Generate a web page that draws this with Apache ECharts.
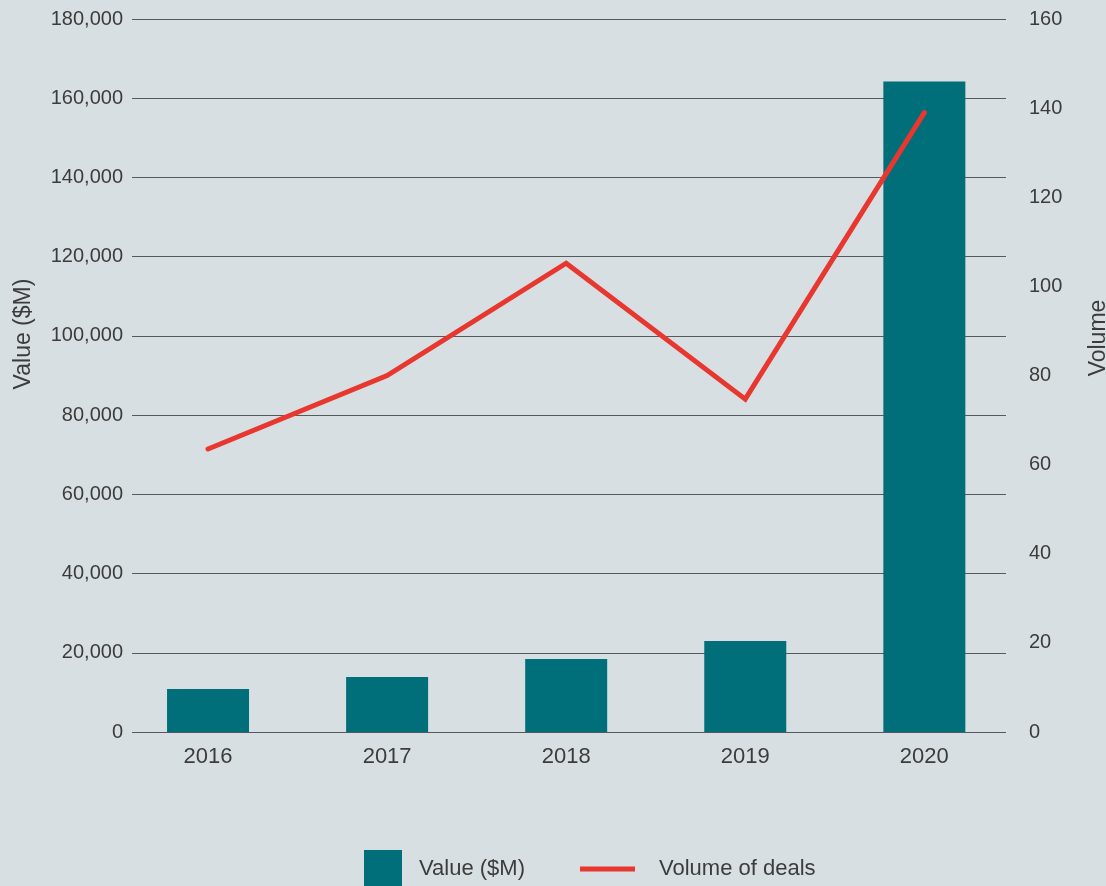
<!DOCTYPE html>
<html>
<head>
<meta charset="utf-8">
<script src="https://cdn.jsdelivr.net/npm/echarts@6/dist/echarts.min.js"></script>
<style>
html,body{margin:0;padding:0;background:#d7dfe2;}
#chart{width:1106px;height:886px;}
</style>
</head>
<body>
<div id="chart"></div>
<script>
var years = ['2016', '2017', '2018', '2019', '2020'];
var valueM = [10850, 13900, 18400, 22950, 164200];
var volume = [63.5, 80, 105.2, 74.7, 139];
var leftTicks = [0, 180000, 20000];
var rightTicks = [0, 160, 20];

var FONT = '"Liberation Sans", Arial, Helvetica, sans-serif';
var TXT = '#3c3c3c';

var barData = valueM.map(function (v, i) { return [i, v]; });
var lineData = volume.map(function (v, i) { return [i, v]; });
var idx = years.map(function (y, i) { return i; });

var chart = echarts.init(document.getElementById('chart'));
chart.setOption({
  backgroundColor: '#d7dfe2',
  animation: false,
  textStyle: { fontFamily: FONT, color: TXT },
  grid: { left: 132, right: 100, top: 19, bottom: 154, containLabel: false, outerBoundsMode: 'none' },
  xAxis: {
    type: 'value',
    min: -0.4246,
    max: 4.456,
    splitLine: { show: false },
    axisLine: { show: false },
    axisTick: { show: false },
    axisLabel: {
      customValues: idx,
      formatter: function (v) { return years[Math.round(v)]; },
      fontSize: 22,
      color: TXT,
      fontFamily: FONT,
      margin: 14
    }
  },
  yAxis: [
    {
      type: 'value',
      min: leftTicks[0], max: leftTicks[1], interval: leftTicks[2],
      name: 'Value ($M)',
      nameLocation: 'middle',
      nameGap: 97,
      nameTextStyle: { fontSize: 23, color: TXT, fontFamily: FONT, padding: [0, 0, 0, 83] },
      axisLine: { show: false },
      axisTick: { show: false },
      axisLabel: {
        fontSize: 20, color: TXT, fontFamily: FONT, margin: 9,
        formatter: function (v) { return v.toLocaleString('en-US'); }
      },
      splitLine: { show: true, lineStyle: { color: '#555a5c', width: 1 } }
    },
    {
      type: 'value',
      position: 'right',
      min: rightTicks[0], max: rightTicks[1], interval: rightTicks[2],
      name: 'Volume',
      nameLocation: 'middle',
      nameGap: 81,
      nameTextStyle: { fontSize: 23, color: TXT, fontFamily: FONT, padding: [0, 0, 0, 75] },
      axisLine: { show: false },
      axisTick: { show: false },
      axisLabel: { fontSize: 20, color: TXT, fontFamily: FONT, margin: 23 },
      splitLine: { show: false }
    }
  ],
  legend: [
    {
      data: ['Value ($M)'],
      left: 364, top: 850, padding: 0,
      itemWidth: 38, itemHeight: 38,
      icon: 'rect',
      textStyle: { fontSize: 22, color: TXT, fontFamily: FONT, padding: [0, 0, 0, 12] }
    },
    {
      data: ['Volume of deals'],
      left: 580, top: 856, padding: 0,
      itemWidth: 55, itemHeight: 5,
      icon: 'rect',
      textStyle: { fontSize: 22, color: TXT, fontFamily: FONT, padding: [0, 0, 0, 19], lineHeight: 26 }
    }
  ],
  series: [
    {
      name: 'Value ($M)',
      type: 'bar',
      yAxisIndex: 0,
      barWidth: 82,
      itemStyle: { color: '#006f7a' },
      data: barData
    },
    {
      name: 'Volume of deals',
      type: 'line',
      yAxisIndex: 1,
      symbol: 'none',
      lineStyle: { color: '#e8372e', width: 5, cap: 'round', join: 'miter' },
      itemStyle: { color: '#e8372e' },
      data: lineData
    }
  ]
});
</script>
</body>
</html>
